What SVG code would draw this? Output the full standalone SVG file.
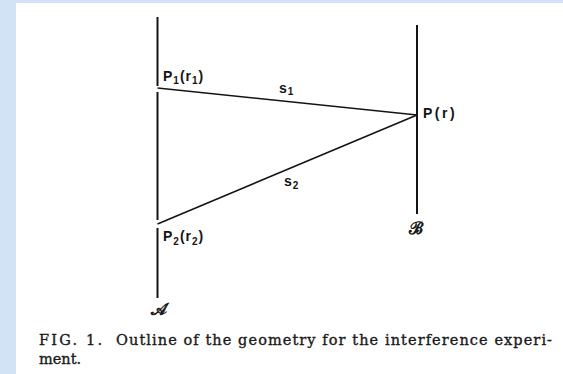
<svg xmlns="http://www.w3.org/2000/svg" width="563" height="374" viewBox="0 0 563 374">
<style>
.ln{stroke:#141414;stroke-width:2;fill:none;stroke-linecap:butt}
.ray{stroke:#141414;stroke-width:1.6;fill:none}
.lbl{font-family:"Liberation Sans","DejaVu Sans",sans-serif;font-weight:bold;font-size:14px;fill:#141414;letter-spacing:1px}
.sub{font-size:10px}
.sc{font-family:"DejaVu Serif","Liberation Serif",serif;font-size:17px;fill:#141414;stroke:#141414;stroke-width:0.7}
.cap{font-family:"DejaVu Serif","Liberation Serif",serif;font-size:14.5px;fill:#1a1a1a;stroke:#1a1a1a;stroke-width:0.35}
</style>
<rect x="0" y="0" width="563" height="374" fill="#ffffff"/>
<rect x="0" y="0" width="563" height="3" fill="#d3e3f6"/>
<rect x="0" y="0" width="16" height="374" fill="#d3e3f6"/>
<g id="plane-A">
<line class="ln" x1="157.5" y1="17" x2="157.5" y2="86"/>
<line class="ln" x1="157.5" y1="92" x2="157.5" y2="220"/>
<line class="ln" x1="157.5" y1="228" x2="157.5" y2="298"/>
<text class="sc" x="151" y="315">𝒜</text>
</g>
<g id="plane-B">
<line class="ln" x1="417" y1="25" x2="417" y2="214"/>
<text class="sc" x="409" y="234">ℬ</text>
</g>
<g id="P1">
<text class="lbl" x="163" y="81">P<tspan class="sub" dy="3">1</tspan><tspan dy="-3">(r</tspan><tspan class="sub" dy="3">1</tspan><tspan dy="-3">)</tspan></text>
</g>
<g id="P2">
<text class="lbl" x="163" y="241">P<tspan class="sub" dy="4">2</tspan><tspan dy="-4">(r</tspan><tspan class="sub" dy="4">2</tspan><tspan dy="-4">)</tspan></text>
</g>
<g id="P">
<text class="lbl" x="423" y="118" style="letter-spacing:2.5px">P(r)</text>
</g>
<g id="connectors">
<line class="ray" x1="157.5" y1="88" x2="417" y2="115"/>
<line class="ray" x1="157.5" y1="224" x2="417" y2="115"/>
<text class="lbl" x="279" y="93" font-size="12">s<tspan class="sub" dy="2">1</tspan></text>
<text class="lbl" x="284" y="186" font-size="12">s<tspan class="sub" dy="3">2</tspan></text>
</g>
<g id="caption">
<text class="cap" x="39" y="345" textLength="63" lengthAdjust="spacing">FIG. 1.</text>
<text class="cap" x="116" y="345" textLength="436" lengthAdjust="spacing">Outline of the geometry for the interference experi-</text>
<text class="cap" x="39" y="364">ment.</text>
</g>
</svg>
